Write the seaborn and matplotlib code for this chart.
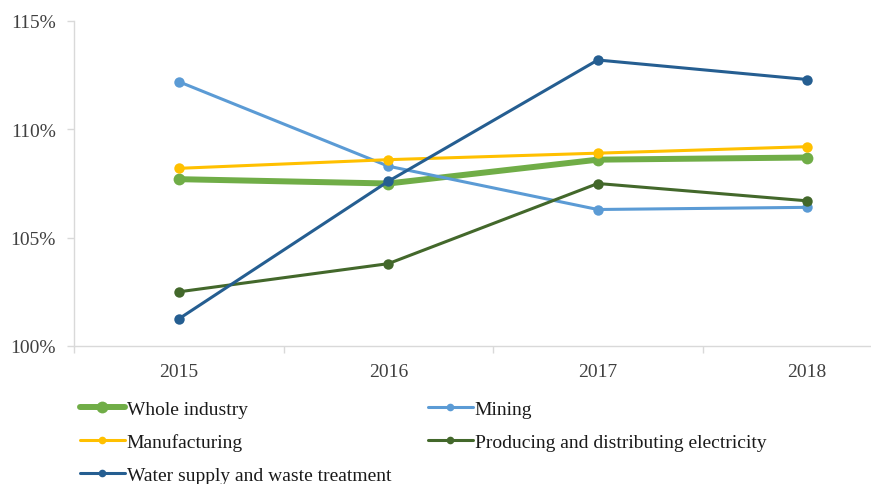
import matplotlib
matplotlib.use("Agg")
import matplotlib.pyplot as plt
import seaborn as sns
import pandas as pd
from matplotlib.lines import Line2D
from matplotlib.ticker import FuncFormatter, FixedLocator

years = ["2015", "2016", "2017", "2018"]
whole_industry = [107.7, 107.5, 108.6, 108.7]
mining = [112.2, 108.3, 106.3, 106.4]
manufacturing = [108.2, 108.6, 108.9, 109.2]
electricity = [102.5, 103.8, 107.5, 106.7]
water = [101.25, 107.6, 113.2, 112.3]

series_names = ["Whole industry", "Mining", "Manufacturing",
                "Producing and distributing electricity",
                "Water supply and waste treatment"]
series_values = [whole_industry, mining, manufacturing, electricity, water]
colors = ["#70AD47", "#5B9BD5", "#FFC000", "#43682B", "#255E91"]
lws = [4.3, 2.2, 2.2, 2.2, 2.2]
mss = [8.5, 7.5, 7.5, 7.5, 7.5]

rows = []
for name, vals in zip(series_names, series_values):
    for y, v in zip(years, vals):
        rows.append({"Year": y, "Value": v, "Series": name})
df = pd.DataFrame(rows)

sns.set_theme(style="white")
plt.rcParams["font.family"] = ["Liberation Serif", "DejaVu Serif"]

W, H = 871, 485
fig = plt.figure(figsize=(W / 100, H / 100), dpi=100)
left, right = 74, 912
top, bottom = 22, 347
ax = fig.add_axes([left / W, (H - bottom) / H, (right - left) / W, (bottom - top) / H])

for name, c, lw, ms in zip(series_names, colors, lws, mss):
    sub = df[df["Series"] == name]
    sns.lineplot(data=sub, x="Year", y="Value", ax=ax, color=c, linewidth=lw,
                 marker="o", markersize=ms, markeredgewidth=0, sort=False,
                 legend=False)

ax.set_xlim(-0.5, 3.5)
ax.set_ylim(100, 115)
ax.set_yticks([100, 105, 110, 115])
ax.yaxis.set_major_formatter(FuncFormatter(lambda v, p: f"{int(v)}%"))
ax.set_xlabel("")
ax.set_ylabel("")

for s in ["top", "right"]:
    ax.spines[s].set_visible(False)
for s in ["left", "bottom"]:
    ax.spines[s].set_color("#d9d9d9")
    ax.spines[s].set_linewidth(1.0)

ax.tick_params(axis="y", which="major", length=5, width=1, color="#d9d9d9",
               pad=8, labelsize=14, labelcolor="#404040", left=True)
ax.tick_params(axis="x", which="major", length=0, pad=12, labelsize=14,
               labelcolor="#404040")
ax.xaxis.set_minor_locator(FixedLocator([-0.5, 0.5, 1.5, 2.5, 3.5]))
ax.tick_params(axis="x", which="minor", length=5, width=1, color="#d9d9d9",
               bottom=True)

order = [0, 2, 4, 1, 3]
leg_lws = [4.3, 2.2, 2.2, 2.2, 2.2]
leg_ms = [8.5, 5.5, 5.5, 5.5, 5.5]
handles = [Line2D([0], [0], color=colors[i], lw=leg_lws[i], marker="o",
                  markersize=leg_ms[i], markeredgewidth=0) for i in order]
labels = [series_names[i] for i in order]
fig.legend(handles, labels, ncol=2, loc="upper left",
           bbox_to_anchor=(80 / W, (H - 401) / H), frameon=False,
           fontsize=14, borderpad=0, borderaxespad=0, handlelength=2.3,
           handletextpad=0.1, columnspacing=1.9, labelspacing=0.8,
           labelcolor="#1a1a1a")

fig.savefig("out.png", dpi=100)
